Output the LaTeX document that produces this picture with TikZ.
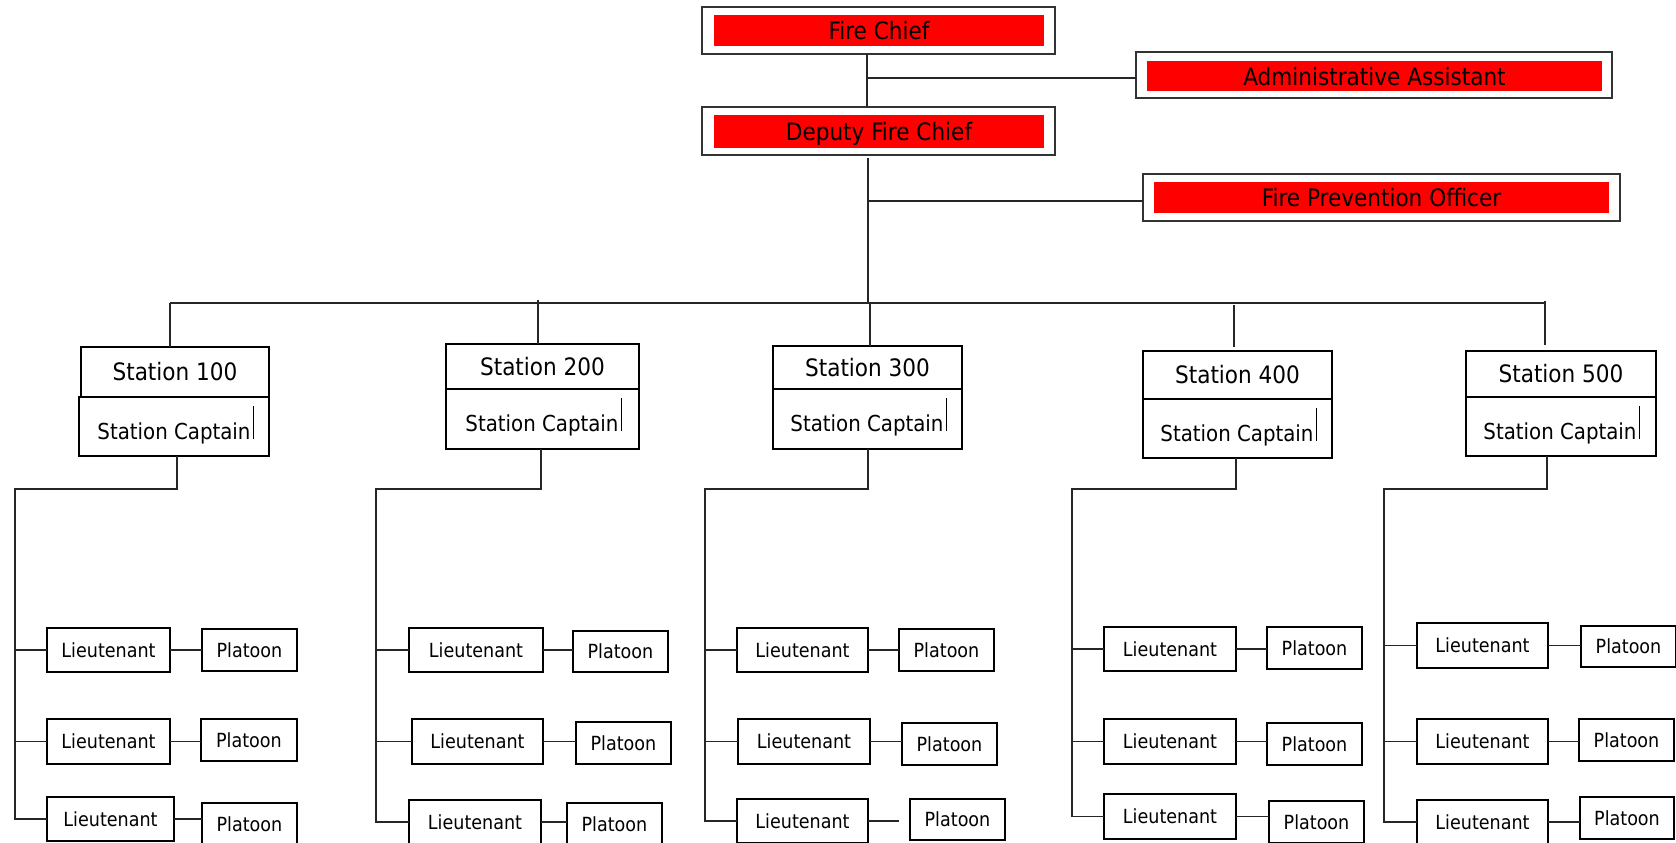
\documentclass[tikz,border=0pt]{standalone}
\usepackage{fontspec}
\setmainfont{DejaVu Sans Condensed}
\usetikzlibrary{calc}
\begin{document}
\begin{tikzpicture}[x=1pt,y=-1pt,
  frame/.style={draw=black!80, line width=1.8pt, inner sep=0pt, outer sep=0pt, fill=white},
  redbar/.style={fill=red, inner sep=0pt, outer sep=0pt, text depth=0pt, font=\fontsize{24}{28}\selectfont},
  hbox/.style={draw, line width=1.3pt, inner sep=0pt, outer sep=0pt, font=\fontsize{24}{28}\selectfont},
  cbox/.style={draw, line width=1.3pt, inner sep=0pt, outer sep=0pt},
  ctext/.style={inner sep=0pt, outer sep=0pt, font=\fontsize{22}{26}\selectfont},
  lbox/.style={draw, line width=1.4pt, inner sep=0pt, outer sep=0pt, font=\fontsize{19.5}{23}\selectfont},
  link/.style={line width=1.4pt, draw=black!85},
  cursor/.style={line width=1.2pt}
]
\path[use as bounding box] (0,0) rectangle (1676,843);
\clip (0,0) rectangle (1676,843);

% top red boxes
\node[frame, minimum width=353, minimum height=47] (FCo) at (878.5,30.5) {};
\node[redbar, minimum width=330, minimum height=31] (FC) at (879,30.5) {Fire Chief};
\node[frame, minimum width=353, minimum height=48] (DCo) at (878.5,131) {};
\node[redbar, minimum width=330, minimum height=33] (DC) at (879,131.5) {Deputy Fire Chief};
\node[frame, minimum width=476, minimum height=46] (AAo) at (1374,75) {};
\node[redbar, minimum width=455, minimum height=30] (AA) at (1374.5,76) {Administrative Assistant};
\node[frame, minimum width=477, minimum height=47] (FPo) at (1381.5,197.5) {};
\node[redbar, minimum width=455, minimum height=31] (FP) at (1381.5,197.5) {Fire Prevention Officer};

% stations
\node[hbox, minimum width=188, minimum height=50] (S1h) at (175,372) {Station 100};
\node[cbox, minimum width=190, minimum height=59] (S1c) at (174,426.5) {};
\node[hbox, minimum width=193, minimum height=45] (S2h) at (542.5,366.5) {Station 200};
\node[cbox, minimum width=193, minimum height=60] (S2c) at (542.5,419) {};
\node[hbox, minimum width=189, minimum height=43] (S3h) at (867.5,367.5) {Station 300};
\node[cbox, minimum width=189, minimum height=60] (S3c) at (867.5,419) {};
\node[hbox, minimum width=189, minimum height=48] (S4h) at (1237.5,375) {Station 400};
\node[cbox, minimum width=189, minimum height=59] (S4c) at (1237.5,428.5) {};
\node[hbox, minimum width=190, minimum height=46] (S5h) at (1561,374) {Station 500};
\node[cbox, minimum width=190, minimum height=59] (S5c) at (1561,426.5) {};

\node[ctext, anchor=base] (T1) at (174,439) {Station Captain};
\node[ctext, anchor=base] (T2) at (542,431) {Station Captain};
\node[ctext, anchor=base] (T3) at (867,431) {Station Captain};
\node[ctext, anchor=base] (T4) at (1237,441) {Station Captain};
\node[ctext, anchor=base] (T5) at (1560,439) {Station Captain};
\foreach \t in {T1,T2,T3,T4,T5}
  \draw[cursor] ($(\t.base east)+(3,0)$) -- ++(0,-33);

% lieutenants
\foreach \n/\x/\y/\w/\h in {
  L11/108.5/650/123/44, L12/108.5/741.5/123/45, L13/110.5/819/127/44,
  L21/476/650/134/44, L22/477.5/741.5/131/45, L23/475/822/132/44,
  L31/802.5/650/131/44, L32/804/741.5/132/45, L33/802.5/821/131/44,
  L41/1170/649/132/44, L42/1170/741.5/132/45, L43/1170/816.5/132/45,
  L51/1482.5/645.5/131/45, L52/1482.5/741.5/131/45, L53/1482.5/822/131/44}
  \node[lbox, minimum width=\w, minimum height=\h] (\n) at (\x,\y) {Lieutenant};
% platoons
\foreach \n/\x/\y/\w/\h in {
  P11/249.5/650/95/42, P12/249/740/96/42, P13/249.5/824/95/42,
  P21/620.5/651.5/95/41, P22/623.5/743/95/42, P23/614.5/824/95/42,
  P31/946.5/650/95/42, P32/949.5/744/95/42, P33/957.5/819.5/95/41,
  P41/1314.5/648/95/42, P42/1314.5/744/95/42, P43/1316.5/822/95/42,
  P51/1628.5/646.5/95/41, P52/1626.5/740/95/42, P53/1627/818/94/42}
  \node[lbox, minimum width=\w, minimum height=\h] (\n) at (\x,\y) {Platoon};

% top connectors
\coordinate (c1) at (867,78);
\draw[link] (FCo.south -| c1) -- (DCo.north -| c1);
\draw[link] (c1) -- (c1 -| AAo.west);
\coordinate (c2) at (868,201);
\coordinate (busC) at (868,303);
\draw[link] ($(DCo.south -| c2)+(0,3)$) -- (busC);
\draw[link] (c2) -- (c2 -| FPo.west);
\coordinate (busL) at (170,303);
\coordinate (busR) at (1546,303);
\draw[link] (busL) -- (busR);

% drops to stations
\coordinate (d1) at (170,303);
\coordinate (d2) at (538,300);
\coordinate (d3) at (870,303);
\coordinate (d4) at (1234,305);
\coordinate (d5) at (1545,301);
\draw[link] (d1) -- (S1h.north -| d1);
\draw[link] (d2) -- (S2h.north -| d2);
\draw[link] (d3) -- (S3h.north -| d3);
\draw[link] (d4) -- ($(S4h.north -| d4)+(0,-4)$);
\draw[link] (d5) -- ($(S5h.north -| d5)+(0,-6)$);

% trunks
\coordinate (k1) at (177,489);  \coordinate (t1) at (15,489);
\coordinate (k2) at (541,489);  \coordinate (t2) at (376,489);
\coordinate (k3) at (868,489);  \coordinate (t3) at (705,489);
\coordinate (k4) at (1236,489); \coordinate (t4) at (1072,489);
\coordinate (k5) at (1547,489); \coordinate (t5) at (1384,489);
\foreach \i in {1,...,5} {
  \draw[link] (S\i c.south -| k\i) -- (k\i) -- (t\i) -- (t\i |- L\i3.west) -- (L\i3.west);
  \draw[link] (t\i |- L\i1.west) -- (L\i1.west);
  \draw[link] (t\i |- L\i2.west) -- (L\i2.west);
}
% lieutenant to platoon
\foreach \i in {1,...,5} {
  \draw[link] (L\i1.east) -- (L\i1.east -| P\i1.west);
  \draw[link] (L\i2.east) -- (L\i2.east -| P\i2.west);
}
\draw[link] (L13.east) -- (L13.east -| P13.west);
\draw[link] (L23.east) -- (L23.east -| P23.west);
\draw[link] (L33.east) -- ($(L33.east)+(31,0)$);
\draw[link] (L43.east) -- (L43.east -| P43.west);
\draw[link] (L53.east) -- (L53.east -| P53.west);
\end{tikzpicture}
\end{document}
